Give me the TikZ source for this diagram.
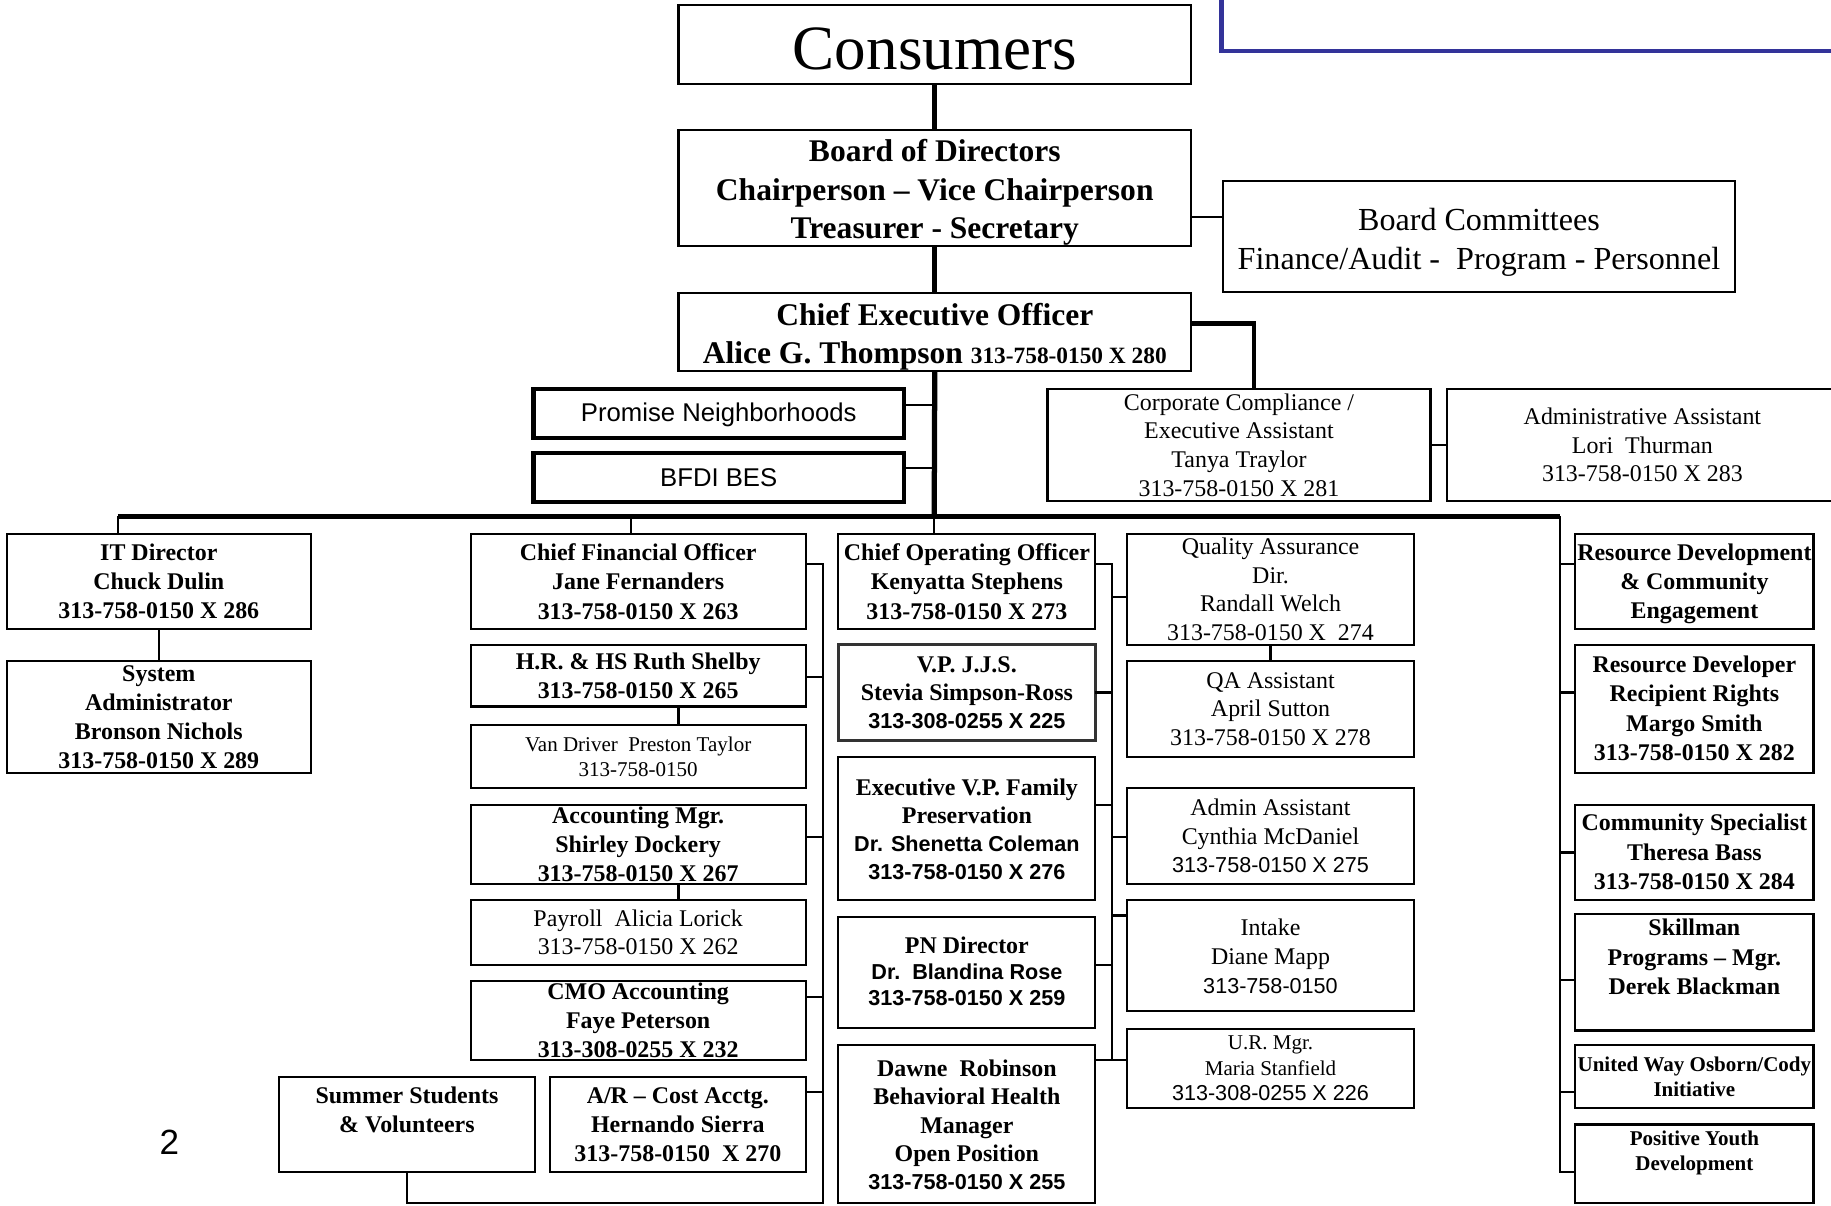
\documentclass[tikz,border=0pt]{standalone}
\usepackage{fontspec}
\setmainfont{Liberation Serif}
\newfontfamily\arl{Liberation Sans}
\definecolor{frameblue}{RGB}{51,51,153}
\newcommand\orgbox[7]{\node[box,#1,minimum width={(#5-#3)*1pt},minimum height={(#6-#4)*1pt}] (#2) at ({(#3+#5)/2},{(#4+#6)/2}) {#7};}
\newcommand\dn[2]{\raisebox{-#1}[\height][\depth]{\begin{tabular}{@{}c@{}}#2\end{tabular}}}
\newcommand\sfb{\arl\bfseries\fontsize{18.5}{25}\selectfont}
\newcommand\sfr{\arl\mdseries\fontsize{18.5}{25}\selectfont}
\tikzset{
  box/.style={draw, line width=1.8pt, inner sep=0pt, outer sep=0pt, align=center},
  bf/.style={font=\fontsize{20.5}{25}\selectfont\bfseries},
  rg/.style={font=\fontsize{20.5}{24.5}\selectfont},
  sm/.style={font=\fontsize{18}{22}\selectfont},
  smb/.style={font=\fontsize{18}{22}\selectfont\bfseries},
  heavy/.style={line width=4pt},
  spine/.style={line width=4.5pt},
  link/.style={line width=1.8pt},
  blueframe/.style={draw=frameblue, line width=3.5pt}
}
\begin{document}
\begin{tikzpicture}[x=1pt,y=-1pt,line join=miter]
\useasboundingbox (0,0) rectangle (1568,1032);
\draw[blueframe] (1046,-10) -- (1046,44) -- (1580,44);

% top chain
\orgbox{font=\fontsize{54}{60}\selectfont}{cons}{581}{4}{1020}{72}{\raisebox{-4pt}[\height][\depth]{Consumers}}
\orgbox{font=\fontsize{27}{33}\selectfont\bfseries}{board}{581}{113}{1020}{209}{\dn{4pt}{Board of Directors\\Chairperson -- Vice Chairperson\\Treasurer - Secretary}}
\orgbox{font=\fontsize{27.5}{33}\selectfont}{comm}{1047}{155}{1486}{250}{\dn{5pt}{Board Committees\\Finance/Audit -\ \ Program - Personnel}}
\orgbox{font=\fontsize{27}{33}\selectfont\bfseries}{ceo}{581}{251}{1020}{318}{\dn{4pt}{Chief Executive Officer\\Alice G. Thompson {\fontsize{20}{33}\selectfont 313-758-0150 X 280}}}
\orgbox{rg}{cc}{897}{333}{1225}{429}{Corporate Compliance /\\Executive Assistant\\Tanya Traylor\\313-758-0150 X 281}
\orgbox{rg}{adm}{1239}{333}{1574}{429}{Administrative Assistant\\Lori\ \ Thurman\\313-758-0150 X 283}
\orgbox{heavy,font=\arl\fontsize{22}{26}\selectfont}{pn}{457}{333}{774}{375}{\dn{1.5pt}{Promise Neighborhoods}}
\orgbox{heavy,font=\arl\fontsize{22}{26}\selectfont}{bfdi}{457}{388}{774}{430}{BFDI BES}

% left
\orgbox{bf}{it}{6}{457}{266}{539}{IT Director\\Chuck Dulin\\313-758-0150 X 286}
\orgbox{bf}{sys}{6}{566}{266}{662}{System\\Administrator\\Bronson Nichols\\313-758-0150 X 289}

% CFO column
\orgbox{bf}{cfo}{403}{457}{690}{539}{Chief Financial Officer\\Jane Fernanders\\313-758-0150 X 263}
\orgbox{bf}{hr}{403}{552}{690}{605}{H.R. \& HS Ruth Shelby\\313-758-0150 X 265}
\orgbox{sm}{van}{403}{621}{690}{675}{Van Driver\ \ Preston Taylor\\313-758-0150}
\orgbox{bf}{acc}{403}{689}{690}{757}{Accounting Mgr.\\Shirley Dockery\\313-758-0150 X 267}
\orgbox{rg}{pay}{403}{771}{690}{826}{Payroll\ \ Alicia Lorick\\313-758-0150 X 262}
\orgbox{bf}{cmo}{403}{840}{690}{908}{CMO Accounting\\Faye Peterson\\313-308-0255 X 232}
\orgbox{bf}{ar}{471}{922}{690}{1004}{A/R -- Cost Acctg.\\Hernando Sierra\\313-758-0150\ \ X 270}
\orgbox{bf}{sum}{239}{922}{458}{1004}{Summer Students\\\& Volunteers\\\mbox{}}

% COO column
\orgbox{bf}{coo}{718}{457}{938}{539}{Chief Operating Officer\\Kenyatta Stephens\\313-758-0150 X 273}
\orgbox{bf,draw=black!80,line width=2.4pt,font=\fontsize{20.5}{24}\selectfont\bfseries}{vp}{718}{552}{938}{634}{V.P. J.J.S.\\Stevia Simpson-Ross\\{\sfb 313-308-0255 X 225}}
\orgbox{font=\fontsize{20.5}{24}\selectfont\bfseries}{evp}{718}{648}{938}{771}{\dn{3pt}{Executive V.P. Family\\Preservation\\{\sfb Dr. Shenetta Coleman}\\{\sfb 313-758-0150 X 276}}}
\orgbox{font=\fontsize{20.5}{22}\selectfont\bfseries}{pnd}{718}{785}{938}{880}{\dn{2pt}{PN Director\\{\sfb Dr.\ \ Blandina Rose}\\{\sfb 313-758-0150 X 259}}}
\orgbox{font=\fontsize{20.5}{24.3}\selectfont\bfseries}{dawne}{718}{895}{938}{1030}{\dn{3pt}{Dawne\ \ Robinson\\Behavioral Health\\Manager\\Open Position\\{\sfb 313-758-0150 X 255}}}

% QA column
\orgbox{rg}{qa}{965}{457}{1211}{552}{Quality Assurance\\Dir.\\Randall Welch\\313-758-0150 X\ \ 274}
\orgbox{rg}{qaa}{965}{566}{1211}{648}{QA Assistant\\April Sutton\\313-758-0150 X 278}
\orgbox{rg}{ca}{965}{675}{1211}{757}{\dn{2pt}{Admin Assistant\\Cynthia McDaniel\\{\sfr 313-758-0150 X 275}}}
\orgbox{rg}{intake}{965}{771}{1211}{866}{\dn{2.5pt}{Intake\\Diane Mapp\\{\sfr 313-758-0150}}}
\orgbox{sm}{ur}{965}{881}{1211}{949}{U.R. Mgr.\\Maria Stanfield\\{\sfr 313-308-0255 X 226}}

% right column
\orgbox{bf}{rd}{1349}{457}{1553}{539}{\dn{2pt}{Resource Development\\\& Community\\Engagement}}
\orgbox{bf}{rr}{1349}{552}{1553}{662}{\dn{1.5pt}{Resource Developer\\Recipient Rights\\Margo Smith\\313-758-0150 X 282}}
\orgbox{bf}{cs}{1349}{689}{1553}{771}{\dn{1.5pt}{Community Specialist\\Theresa Bass\\313-758-0150 X 284}}
\orgbox{bf}{sk}{1349}{785}{1553}{880}{\dn{1.5pt}{Skillman\\Programs -- Mgr.\\Derek Blackman\\\mbox{}}}
\orgbox{smb}{uw}{1349}{895}{1553}{949}{United Way Osborn/Cody\\Initiative}
\orgbox{smb}{py}{1349}{963}{1553}{1030}{Positive Youth\\Development\\\mbox{}}

\node[font=\arl\fontsize{30}{30}\selectfont] (pg) at (145,978) {2};

% coordinates
\coordinate (busC) at (800,442);
\coordinate (busL) at (101,442);
\coordinate (busR) at (1336,442);
\coordinate (ccK) at (1074,277);
\coordinate (cfoV) at (705,483);
\coordinate (cfoB) at (705,1030);
\coordinate (cooV) at (952,483);
\coordinate (cooB) at (952,908);
\coordinate (rdB) at (1336,1004);

% spine
\draw[spine] (cons.south) -- (board.north);
\draw[spine] (board.south) -- (ceo.north);
\draw[spine] (ceo.south) -- (busC);
\draw[spine] (busL) -- (busR);
\draw[link] (board.east |- 0,186) -- (comm.west |- 0,186);
\draw[heavy] (ceo.east |- ccK) -- (ccK) -- (ccK |- cc.north);
\draw[link] (cc.east) -- (adm.west);
\draw[link] (pn.east |- 0,347) -| (ceo.south);
\draw[link] (bfdi.east |- 0,401) -| (ceo.south);

% left
\draw[link] (busL) -- (busL |- it.north);
\draw[link] (it.south) -- (sys.north);

% CFO
\draw[link] (cfo.north -| 540,0) -- (busC -| 540,0);
\draw[link] (cfo.east |- cfoV) -- (cfoV) -- (cfoB) -| (sum.south);
\draw[link] (hr.east |- 0,580) -| (cfoV);
\draw[link] (acc.east |- 0,717) -| (cfoV);
\draw[link] (cmo.east |- 0,854) -| (cfoV);
\draw[link] (ar.east |- 0,935) -| (cfoV);
\draw[link] (hr.south -| 581,0) -- (van.north -| 581,0);
\draw[link] (acc.south -| 581,0) -- (pay.north -| 581,0);

% COO
\draw[link] (coo.north -| busC) -- (busC);
\draw[link] (coo.east |- cooV) -- (cooV) -- (cooB);
\draw[link] (vp.east |- 0,593) -| (cooV);
\draw[link] (evp.east |- 0,689) -| (cooV);
\draw[link] (pnd.east |- 0,826) -| (cooV);
\draw[link] (dawne.east |- cooB) -- (ur.west |- cooB);
\draw[link] (qa.west |- 0,511) -| (cooV);
\draw[link] (ca.west |- 0,717) -| (cooV);
\draw[link] (intake.west |- 0,784) -| (cooV);
\draw[link] (qa.south) -- (qaa.north);

% right
\draw[link] (busR) -- (rdB) -- (py.west |- rdB);
\draw[link] (rd.west |- 0,483) -| (busR);
\draw[link] (rr.west |- 0,593) -| (busR);
\draw[link] (cs.west |- 0,730) -| (busR);
\draw[link] (sk.west |- 0,839) -| (busR);
\draw[link] (uw.west |- 0,935) -| (busR);
\end{tikzpicture}
\end{document}
